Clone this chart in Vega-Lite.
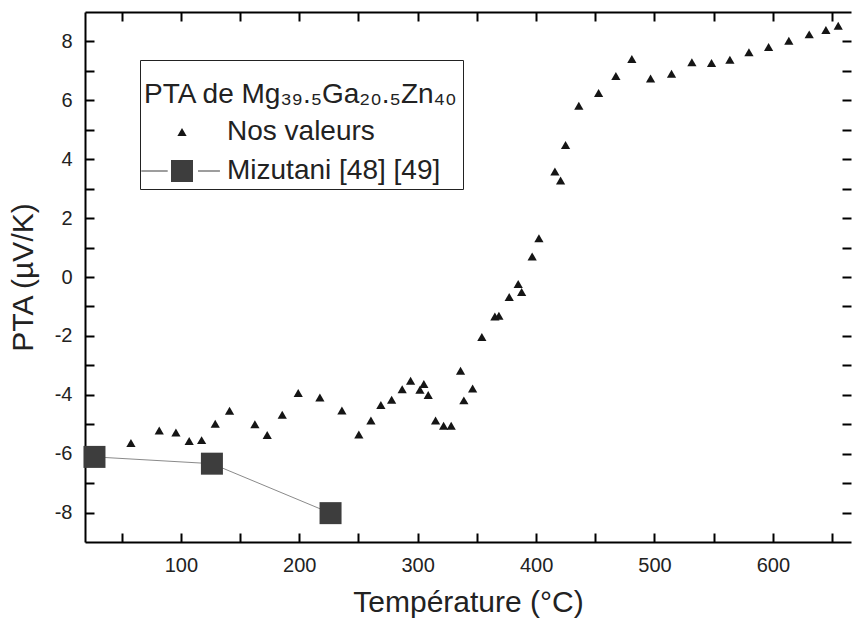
{
  "$schema": "https://vega.github.io/schema/vega-lite/v6.json",
  "autosize": "none",
  "width": 766,
  "height": 530,
  "padding": {"left": 85, "top": 12, "right": 1, "bottom": 78},
  "background": "white",
  "config": {
    "view": {"stroke": null},
    "font": "Liberation Sans",
    "axis": {
      "grid": false,
      "domainColor": "black",
      "domainWidth": 2,
      "tickColor": "black",
      "tickWidth": 2,
      "ticks": true,
      "tickSize": -9,
      "labelFont": "Liberation Sans",
      "labelFontSize": 20,
      "labelColor": "#222222",
      "titleFont": "Liberation Sans",
      "titleFontSize": 30,
      "titleFontWeight": "normal",
      "titleColor": "#222222"
    }
  },
  "datasets": {
    "pts": [
      {"series": "Nos valeurs", "T": 57.8, "PTA": -5.64},
      {"series": "Nos valeurs", "T": 81.7, "PTA": -5.21},
      {"series": "Nos valeurs", "T": 95.8, "PTA": -5.28},
      {"series": "Nos valeurs", "T": 107.0, "PTA": -5.57},
      {"series": "Nos valeurs", "T": 117.5, "PTA": -5.54},
      {"series": "Nos valeurs", "T": 129.0, "PTA": -4.98},
      {"series": "Nos valeurs", "T": 141.1, "PTA": -4.54},
      {"series": "Nos valeurs", "T": 162.5, "PTA": -5.0},
      {"series": "Nos valeurs", "T": 172.9, "PTA": -5.37},
      {"series": "Nos valeurs", "T": 185.6, "PTA": -4.68},
      {"series": "Nos valeurs", "T": 199.1, "PTA": -3.94},
      {"series": "Nos valeurs", "T": 217.4, "PTA": -4.09},
      {"series": "Nos valeurs", "T": 236.0, "PTA": -4.53},
      {"series": "Nos valeurs", "T": 250.3, "PTA": -5.35},
      {"series": "Nos valeurs", "T": 260.5, "PTA": -4.87},
      {"series": "Nos valeurs", "T": 268.9, "PTA": -4.35},
      {"series": "Nos valeurs", "T": 278.0, "PTA": -4.17},
      {"series": "Nos valeurs", "T": 286.9, "PTA": -3.81},
      {"series": "Nos valeurs", "T": 294.0, "PTA": -3.52},
      {"series": "Nos valeurs", "T": 301.9, "PTA": -3.83},
      {"series": "Nos valeurs", "T": 305.2, "PTA": -3.63},
      {"series": "Nos valeurs", "T": 308.9, "PTA": -4.01},
      {"series": "Nos valeurs", "T": 315.1, "PTA": -4.87},
      {"series": "Nos valeurs", "T": 321.9, "PTA": -5.05},
      {"series": "Nos valeurs", "T": 328.3, "PTA": -5.05},
      {"series": "Nos valeurs", "T": 336.2, "PTA": -3.18},
      {"series": "Nos valeurs", "T": 339.0, "PTA": -4.19},
      {"series": "Nos valeurs", "T": 346.4, "PTA": -3.79},
      {"series": "Nos valeurs", "T": 354.2, "PTA": -2.04},
      {"series": "Nos valeurs", "T": 365.2, "PTA": -1.34},
      {"series": "Nos valeurs", "T": 368.6, "PTA": -1.32},
      {"series": "Nos valeurs", "T": 377.3, "PTA": -0.68},
      {"series": "Nos valeurs", "T": 384.9, "PTA": -0.24},
      {"series": "Nos valeurs", "T": 387.8, "PTA": -0.51},
      {"series": "Nos valeurs", "T": 396.7, "PTA": 0.7},
      {"series": "Nos valeurs", "T": 402.4, "PTA": 1.32},
      {"series": "Nos valeurs", "T": 415.9, "PTA": 3.58},
      {"series": "Nos valeurs", "T": 420.7, "PTA": 3.28},
      {"series": "Nos valeurs", "T": 424.9, "PTA": 4.48},
      {"series": "Nos valeurs", "T": 436.1, "PTA": 5.82},
      {"series": "Nos valeurs", "T": 452.8, "PTA": 6.25},
      {"series": "Nos valeurs", "T": 467.4, "PTA": 6.83},
      {"series": "Nos valeurs", "T": 480.9, "PTA": 7.4},
      {"series": "Nos valeurs", "T": 496.7, "PTA": 6.74},
      {"series": "Nos valeurs", "T": 514.4, "PTA": 6.9},
      {"series": "Nos valeurs", "T": 531.6, "PTA": 7.29},
      {"series": "Nos valeurs", "T": 548.2, "PTA": 7.27},
      {"series": "Nos valeurs", "T": 563.7, "PTA": 7.38},
      {"series": "Nos valeurs", "T": 579.8, "PTA": 7.63},
      {"series": "Nos valeurs", "T": 596.4, "PTA": 7.81},
      {"series": "Nos valeurs", "T": 613.5, "PTA": 8.02},
      {"series": "Nos valeurs", "T": 630.7, "PTA": 8.24},
      {"series": "Nos valeurs", "T": 644.8, "PTA": 8.39},
      {"series": "Nos valeurs", "T": 655.2, "PTA": 8.53},
      {"series": "Mizutani [48] [49]", "T": 27, "PTA": -6.11},
      {"series": "Mizutani [48] [49]", "T": 126.2, "PTA": -6.34},
      {"series": "Mizutani [48] [49]", "T": 226.4, "PTA": -8.02}
    ]
  },
  "data": {"name": "pts"},
  "resolve": {"scale": {"x": "independent", "y": "independent"}, "axis": {"x": "independent", "y": "independent"}},
  "layer": [
    {
      "transform": [{"filter": "datum.series === 'Mizutani [48] [49]'"}],
      "mark": {"type": "line", "color": "#8a8a8a", "strokeWidth": 1},
      "encoding": {
        "x": {
          "field": "T", "type": "quantitative",
          "scale": {"domain": [19, 666], "nice": false, "zero": false},
          "axis": {
            "orient": "top", "title": null, "labels": false,
            "values": [50, 100, 150, 200, 250, 300, 350, 400, 450, 500, 550, 600, 650],
            "encode": {"ticks": {"y2": {"condition": {"test": "datum.value % 100 !== 0", "value": 5}, "value": 9}}}
          }
        },
        "y": {
          "field": "PTA", "type": "quantitative",
          "scale": {"domain": [-9, 9], "nice": false, "zero": false},
          "axis": {
            "orient": "right", "title": null, "labels": false, "domain": false,
            "values": [-8, -7, -6, -5, -4, -3, -2, -1, 0, 1, 2, 3, 4, 5, 6, 7, 8],
            "encode": {"ticks": {"x2": {"condition": {"test": "datum.value % 2 !== 0", "value": -5}, "value": -9}}}
          }
        }
      }
    },
    {
      "transform": [{"filter": "datum.series === 'Mizutani [48] [49]'"}],
      "mark": {"type": "point", "filled": true, "opacity": 1, "shape": "square", "size": 484, "color": "#3d3d3d"},
      "encoding": {
        "x": {
          "field": "T", "type": "quantitative",
          "scale": {"domain": [19, 666], "nice": false, "zero": false},
          "axis": null
        },
        "y": {
          "field": "PTA", "type": "quantitative",
          "scale": {"domain": [-9, 9], "nice": false, "zero": false},
          "axis": null
        }
      }
    },
    {
      "transform": [{"filter": "datum.series === 'Nos valeurs'"}],
      "mark": {"type": "point", "filled": true, "opacity": 1},
      "encoding": {
        "x": {
          "field": "T", "type": "quantitative",
          "scale": {"domain": [19, 666], "nice": false, "zero": false},
          "axis": {
            "orient": "bottom", "title": "Température (°C)",
            "values": [50, 100, 150, 200, 250, 300, 350, 400, 450, 500, 550, 600, 650],
            "labelExpr": "datum.value % 100 === 0 ? format(datum.value, 'd') : ''",
            "encode": {"ticks": {"y2": {"condition": {"test": "datum.value % 100 !== 0", "value": -5}, "value": -9}}},
            "labelPadding": 22,
            "titlePadding": 12
          }
        },
        "y": {
          "field": "PTA", "type": "quantitative",
          "scale": {"domain": [-9, 9], "nice": false, "zero": false},
          "axis": {
            "orient": "left", "title": "PTA (µV/K)",
            "values": [-8, -7, -6, -5, -4, -3, -2, -1, 0, 1, 2, 3, 4, 5, 6, 7, 8],
            "labelExpr": "datum.value % 2 === 0 ? replace(format(datum.value, 'd'), '−', '-') : ''",
            "encode": {"ticks": {"x2": {"condition": {"test": "datum.value % 2 !== 0", "value": 5}, "value": 9}}},
            "labelPadding": 22,
            "titlePadding": 16
          }
        },
        "color": {
          "field": "series", "type": "nominal",
          "scale": {"domain": ["Nos valeurs", "Mizutani [48] [49]"], "range": ["#151515", "#3d3d3d"]},
          "legend": {
            "orient": "none",
            "legendX": 55,
            "legendY": 48,
            "title": ["", "PTA de Mg₃₉.₅Ga₂₀.₅Zn₄₀\u00a0\u00a0\u00a0"],
            "titleFont": "Liberation Sans",
            "titleFontSize": 28,
            "titleFontWeight": "normal",
            "titleColor": "#222222",
            "titleLineHeight": 17,
            "titlePadding": 9,
            "titleLimit": 700,
            "labelLimit": 500,
            "labelFont": "Liberation Sans",
            "labelFontSize": 28,
            "labelColor": "#222222",
            "padding": 4,
            "strokeColor": "#222222",
            "fillColor": "white",
            "symbolOffset": 24,
            "labelOffset": 31,
            "rowPadding": 11,
            "encode": {
              "legend": {"strokeWidth": {"value": 1.5}}
            }
          }
        },
        "shape": {
          "field": "series", "type": "nominal",
          "scale": {"domain": ["Nos valeurs", "Mizutani [48] [49]"], "range": ["triangle-up", "M-1,-1H1V1H-1Z M-3.7,-0.05H-1.3V0.05H-3.7Z M1.45,-0.05H3.45V0.05H1.45Z"]}
        },
        "size": {
          "field": "series", "type": "nominal",
          "scale": {"domain": ["Nos valeurs", "Mizutani [48] [49]"], "range": [85, 484]}
        }
      }
    }
  ]
}
